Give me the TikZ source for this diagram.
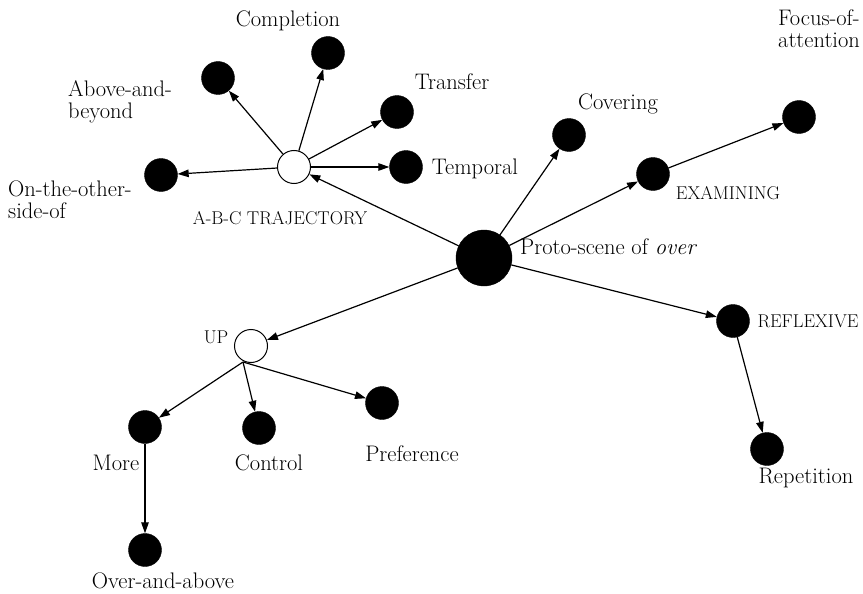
\documentclass[tikz,border=0pt]{standalone}
\usepackage{fontspec}
\usetikzlibrary{arrows.meta}
\begin{document}
\begin{tikzpicture}[x=1pt,y=-1pt,
  dot/.style={circle,fill=black,draw=black,inner sep=0pt,minimum size=33pt},
  bigdot/.style={circle,fill=black,draw=black,inner sep=0pt,minimum size=56pt},
  opendot/.style={circle,fill=white,draw=black,line width=1pt,inner sep=0pt,minimum size=33pt},
  lbl/.style={inner sep=0pt,font=\fontsize{22.5}{22}\selectfont},
  slbl/.style={inner sep=0pt,font=\fontsize{18.5}{20}\selectfont},
  arr/.style={-{Triangle[length=11pt,width=7.5pt]},line width=1.2pt}]
\useasboundingbox (0,0) rectangle (863,594);
% nodes
\node[bigdot] (proto) at (484,258) {};
\node[opendot] (abc) at (294,167) {};
\node[dot] (compl) at (328,53) {};
\node[dot] (above) at (218,78) {};
\node[dot] (transfer) at (397,112) {};
\node[dot] (temporal) at (406,167) {};
\node[dot] (other) at (161,175) {};
\node[dot] (covering) at (569,135) {};
\node[dot] (exam) at (653,174) {};
\node[dot] (focus) at (799,117) {};
\node[dot] (reflex) at (733,321) {};
\node[dot] (repet) at (767,449) {};
\node[opendot] (up) at (251,346) {};
\node[dot] (more) at (145,427) {};
\node[dot] (control) at (259,428) {};
\node[dot] (pref) at (382,403) {};
\node[dot] (overabove) at (145,550) {};
\coordinate (upfoot) at (243,362);
% labels
\node[lbl] (tcompl) at (288,21) {Completion};
\node[lbl,anchor=west,align=left] (tabove) at (68,102) {Above-and-\\beyond};
\node[lbl] (ttransfer) at (452,82) {Transfer};
\node[lbl] (ttemporal) at (475,169) {Temporal};
\node[lbl,anchor=west,align=left] (tother) at (8,200) {On-the-other-\\side-of};
\node[slbl] (tabc) at (280,218) {A-B-C TRAJECTORY};
\node[lbl] (tcovering) at (618,104) {Covering};
\node[lbl,anchor=west,align=left] (tfocus) at (778,29) {Focus-of-\\attention};
\node[slbl] (texam) at (728,193) {EXAMINING};
\node[lbl,anchor=west] (tproto) at (520,247) {Proto-scene of \textit{over}};
\node[slbl] (treflex) at (808,321) {REFLEXIVE};
\node[lbl] (trepet) at (806,478) {Repetition};
\node[slbl] (tup) at (216,337) {UP};
\node[lbl] (tmore) at (116,463) {More};
\node[lbl] (tcontrol) at (269,463) {Control};
\node[lbl] (tpref) at (412,454) {Preference};
\node[lbl] (tover) at (163,581) {Over-and-above};
% connectors
\draw[arr] (proto) -- (abc);
\draw[arr] (abc) -- (compl);
\draw[arr] (abc) -- (above);
\draw[arr] (abc) -- (transfer);
\draw[arr] (abc) -- (temporal);
\draw[arr] (abc) -- (other);
\draw[arr] (proto) -- (covering);
\draw[arr] (proto) -- (exam);
\draw[arr] (exam) -- (focus);
\draw[arr] (proto) -- (reflex);
\draw[arr] (reflex) -- (repet);
\draw[arr] (proto) -- (up);
\draw[arr] (upfoot) -- (more);
\draw[arr] (upfoot) -- (control);
\draw[arr] (upfoot) -- (pref);
\draw[arr] (more) -- (overabove);
\end{tikzpicture}
\end{document}
